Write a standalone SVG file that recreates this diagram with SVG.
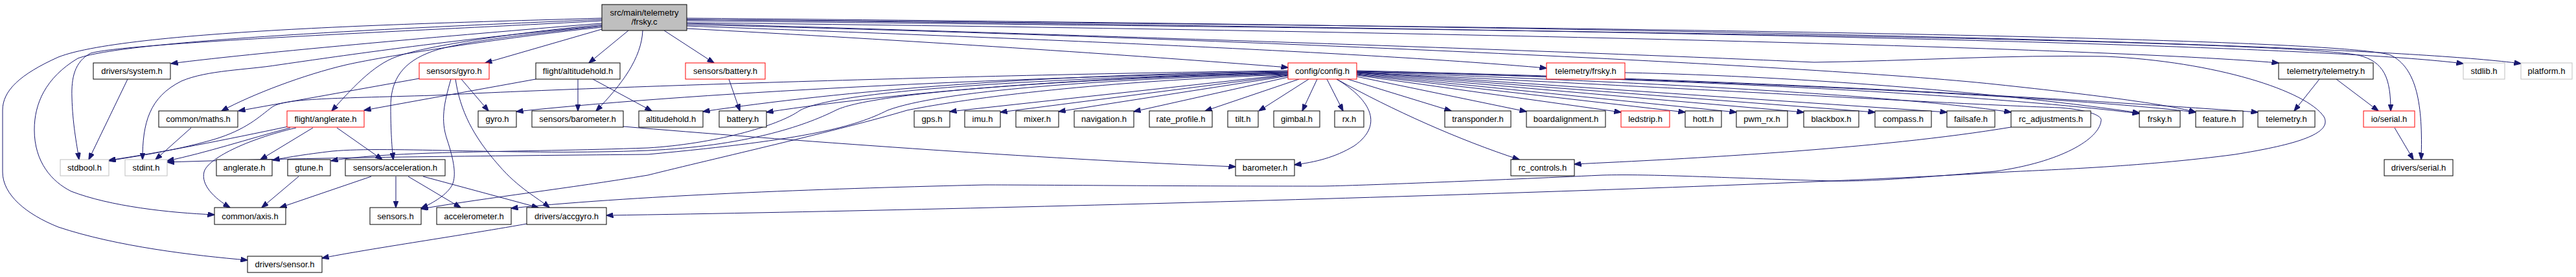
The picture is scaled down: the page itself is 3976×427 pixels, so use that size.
<svg xmlns="http://www.w3.org/2000/svg" width="3976" height="427" viewBox="0 0 3976 427">
<style>
rect{fill:#fff;stroke:#000;stroke-width:1}
.r rect{stroke:#ff0000}
.g rect{stroke:#bfbfbf}
.top rect{fill:#bfbfbf}
text{font-family:"Liberation Sans",Arial,sans-serif;font-size:13px;text-anchor:middle;fill:#000}
#edges path{fill:none;stroke:#191970;stroke-width:1;marker-end:url(#a)}
</style>
<defs>
<marker id="a" markerWidth="11" markerHeight="8" refX="10.5" refY="4" orient="auto" markerUnits="userSpaceOnUse">
<path d="M0,0 L11,4 L0,8 z" fill="#191970" stroke="#191970" stroke-width="1"/>
</marker>
</defs>
<rect x="0" y="0" width="3976" height="427" style="fill:#fff;stroke:none"/>
<g id="edges">
<!-- frsky.c left -->
<path d="M929,28 C700,35 200,45 90,88 C30,115 4,140 4,170 L4,265 C4,300 40,330 90,350 C180,380 300,394 382,401"/>
<path d="M929,30 C700,40 200,60 120,90 C70,120 53,160 53,200 C53,250 80,280 110,295 C170,318 260,328 331,331"/>
<path d="M929,32 C700,45 200,65 140,82 C115,95 110,120 111,150 C112,190 118,220 122,246"/>
<path d="M929,36 C800,46 400,80 264,98"/>
<path d="M929,40 C700,60 500,90 430,100 C380,108 320,108 280,125 C230,150 220,190 220,246"/>
<path d="M929,42 C800,55 600,85 534,100 C470,115 390,145 342,171"/>
<path d="M929,38 C800,50 660,70 613,87 C575,100 540,140 512,171"/>
<path d="M929,40 C800,55 700,65 660,82 C615,100 603,130 603,165 C603,200 605,230 607,246"/>
<path d="M929,45 L749,97"/>
<path d="M970,47 L909,97"/>
<path d="M992,47 C990,90 960,130 920,171"/>
<path d="M1025,47 L1102,97"/>
<!-- frsky.c right -->
<path d="M1060,44 C1400,62 1750,85 1988,104"/>
<path d="M1060,40 C1600,60 2100,80 2387,105"/>
<path d="M1060,35 C2000,45 3200,70 3517,97"/>
<path d="M1060,30 C2000,40 3500,60 3802,98"/>
<path d="M1060,28 C2200,38 3600,60 3891,98"/>
<path d="M1060,32 C2300,45 3500,60 3640,85 C3680,95 3690,120 3690,171"/>
<path d="M1060,30 C2300,40 3600,55 3690,85 C3730,105 3740,160 3737,246"/>
<path d="M1060,38 C1800,55 2800,100 3080,130 C3250,148 3350,162 3389,173"/>
<path d="M1060,36 C1700,55 2400,78 2800,96 C2950,94 3100,84 3250,87 C3420,95 3560,140 3587,180 C3600,205 3550,222 3450,238 C3300,258 3150,262 3080,266 C2700,290 1600,322 936,332"/>
<!-- config.h -->
<path d="M2094,112 C2600,135 3000,160 3180,166 C3230,170 3245,180 3243,186 C3240,215 3180,250 3080,264 C2950,275 2880,280 2827,279 C2650,274 2550,268 2473,270 C2300,278 2100,286 2040,287 C1800,287 1600,285 1520,285 C1300,290 1000,300 789,321"/>
<path d="M2033,122 L2010,171"/>
<path d="M2020,122 L1943,171"/>
<path d="M2005,122 L1860,171"/>
<path d="M1988,119 L1750,172"/>
<path d="M1988,117 L1634,172"/>
<path d="M1988,116 L1544,173"/>
<path d="M1988,115 L1466,172"/>
<path d="M2048,122 L2073,171"/>
<path d="M2063,122 C2110,150 2140,190 2090,225 C2060,243 2030,250 1998,254"/>
<path d="M2063,122 C2150,170 2250,215 2345,246"/>
<path d="M2080,122 L2240,171"/>
<path d="M2094,118 L2356,172"/>
<path d="M2094,116 L2502,173"/>
<path d="M2094,115 L2601,173"/>
<path d="M2094,114 L2680,173"/>
<path d="M2094,113 L2784,173"/>
<path d="M2094,112 L2894,173"/>
<path d="M2094,111 L3005,173"/>
<path d="M2094,111 C2600,128 2950,150 3104,173"/>
<path d="M2094,110 C2700,125 3100,150 3302,175"/>
<path d="M2094,110 C2700,125 3200,150 3389,173"/>
<path d="M2094,109 C2800,125 3300,160 3485,173"/>
<path d="M1988,111 C1600,118 1100,140 797,172"/>
<path d="M1988,110 C1600,115 1300,140 1085,172"/>
<path d="M1988,112 C1700,118 1400,140 1183,173"/>
<path d="M1988,109 C1500,115 900,135 670,147 C500,152 440,152 420,165 C400,180 380,200 330,215 C260,235 200,242 168,248"/>
<path d="M1988,115 C1700,125 1500,150 1400,170 C1300,200 1100,245 1000,270 C880,290 750,305 650,322"/>
<path d="M1988,114 C1700,122 1450,140 1370,170 C1320,195 1250,215 1000,238 C800,240 500,242 258,250"/>
<path d="M1988,113 C1700,120 1350,140 1290,170 C1240,195 1150,225 1000,232 C800,240 600,225 513,233 C470,238 440,243 421,247"/>
<path d="M1988,112 C1700,118 1300,135 1235,170 C1200,195 1100,222 1000,228 C800,235 600,232 511,248"/>
<!-- others -->
<path d="M962,195 C1200,215 1600,245 1907,257"/>
<path d="M3104,196 C2900,230 2600,245 2430,253"/>
<path d="M2508,112 C2800,118 3100,145 3302,174"/>
<path d="M3580,122 L3541,171"/>
<path d="M3606,122 L3671,171"/>
<path d="M3696,197 L3725,246"/>
<path d="M197,122 L137,246"/>
<path d="M295,197 L240,246"/>
<path d="M445,195 C350,215 250,235 168,247"/>
<path d="M448,197 C380,215 320,235 258,248"/>
<path d="M483,197 L402,246"/>
<path d="M520,197 L590,246"/>
<path d="M457,197 C380,215 320,245 315,265 C310,285 330,305 355,320"/>
<path d="M461,272 L404,320"/>
<path d="M573,272 L432,320"/>
<path d="M611,272 L611,320"/>
<path d="M630,272 L711,320"/>
<path d="M653,272 L831,320"/>
<path d="M647,121 L368,171"/>
<path d="M712,122 L754,171"/>
<path d="M696,122 C685,160 680,185 690,215 C700,245 705,270 698,285 C690,300 670,312 650,321"/>
<path d="M703,122 C710,170 730,210 770,255 C800,290 830,305 848,320"/>
<path d="M827,122 L562,170"/>
<path d="M892,122 L892,171"/>
<path d="M915,122 L1006,171"/>
<path d="M1125,122 L1142,171"/>
<path d="M813,345 C700,365 560,385 497,398"/>
</g>
<g id="n0" class="top"><rect x="929" y="7" width="131" height="40"/><text x="994.5" y="23.5">src/main/telemetry</text><text x="994.5" y="38">/frsky.c</text></g>
<g id="n_system"><rect x="144" y="97" width="119" height="25"/><text x="203.5" y="114">drivers/system.h</text></g>
<g id="n_sgyro" class="r"><rect x="647" y="97" width="108" height="25"/><text x="701" y="114">sensors/gyro.h</text></g>
<g id="n_falt"><rect x="827" y="97" width="130" height="25"/><text x="892" y="114">flight/altitudehold.h</text></g>
<g id="n_sbat" class="r"><rect x="1058" y="97" width="123" height="25"/><text x="1119.5" y="114">sensors/battery.h</text></g>
<g id="n_config" class="r"><rect x="1988" y="97" width="106" height="25"/><text x="2041" y="114">config/config.h</text></g>
<g id="n_tfrsky" class="r"><rect x="2387" y="97" width="121" height="25"/><text x="2447.5" y="114">telemetry/frsky.h</text></g>
<g id="n_ttel"><rect x="3517" y="97" width="146" height="25"/><text x="3590" y="114">telemetry/telemetry.h</text></g>
<g id="n_stdlib" class="g"><rect x="3802" y="97" width="64" height="25"/><text x="3834" y="114">stdlib.h</text></g>
<g id="n_platform" class="g"><rect x="3891" y="97" width="79" height="25"/><text x="3930.5" y="114">platform.h</text></g>
<g id="n_maths"><rect x="245" y="171" width="122" height="25"/><text x="306" y="188">common/maths.h</text></g>
<g id="n_fangle" class="r"><rect x="443" y="171" width="119" height="25"/><text x="502.5" y="188">flight/anglerate.h</text></g>
<g id="n_gyro"><rect x="738" y="171" width="59" height="25"/><text x="767.5" y="188">gyro.h</text></g>
<g id="n_sbaro"><rect x="821" y="171" width="141" height="25"/><text x="891.5" y="188">sensors/barometer.h</text></g>
<g id="n_alt"><rect x="986" y="171" width="99" height="25"/><text x="1035.5" y="188">altitudehold.h</text></g>
<g id="n_bat"><rect x="1110" y="171" width="73" height="25"/><text x="1146.5" y="188">battery.h</text></g>
<g id="n_gps"><rect x="1411" y="171" width="55" height="25"/><text x="1438.5" y="188">gps.h</text></g>
<g id="n_imu"><rect x="1489" y="171" width="55" height="25"/><text x="1516.5" y="188">imu.h</text></g>
<g id="n_mixer"><rect x="1568" y="171" width="66" height="25"/><text x="1601" y="188">mixer.h</text></g>
<g id="n_nav"><rect x="1658" y="171" width="92" height="25"/><text x="1704" y="188">navigation.h</text></g>
<g id="n_rate"><rect x="1774" y="171" width="97" height="25"/><text x="1822.5" y="188">rate_profile.h</text></g>
<g id="n_tilt"><rect x="1895" y="171" width="47" height="25"/><text x="1918.5" y="188">tilt.h</text></g>
<g id="n_gimbal"><rect x="1966" y="171" width="71" height="25"/><text x="2001.5" y="188">gimbal.h</text></g>
<g id="n_rx"><rect x="2060" y="171" width="45" height="25"/><text x="2082.5" y="188">rx.h</text></g>
<g id="n_transp"><rect x="2230" y="171" width="102" height="25"/><text x="2281" y="188">transponder.h</text></g>
<g id="n_board"><rect x="2356" y="171" width="122" height="25"/><text x="2417" y="188">boardalignment.h</text></g>
<g id="n_led" class="r"><rect x="2502" y="171" width="75" height="25"/><text x="2539.5" y="188">ledstrip.h</text></g>
<g id="n_hott"><rect x="2601" y="171" width="56" height="25"/><text x="2629" y="188">hott.h</text></g>
<g id="n_pwm"><rect x="2680" y="171" width="79" height="25"/><text x="2719.5" y="188">pwm_rx.h</text></g>
<g id="n_bb"><rect x="2784" y="171" width="85" height="25"/><text x="2826.5" y="188">blackbox.h</text></g>
<g id="n_compass"><rect x="2894" y="171" width="87" height="25"/><text x="2937.5" y="188">compass.h</text></g>
<g id="n_fs"><rect x="3005" y="171" width="74" height="25"/><text x="3042" y="188">failsafe.h</text></g>
<g id="n_rcadj"><rect x="3104" y="171" width="123" height="25"/><text x="3165.5" y="188">rc_adjustments.h</text></g>
<g id="n_frsky"><rect x="3302" y="171" width="63" height="25"/><text x="3333.5" y="188">frsky.h</text></g>
<g id="n_feature"><rect x="3389" y="171" width="73" height="25"/><text x="3425.5" y="188">feature.h</text></g>
<g id="n_tel"><rect x="3485" y="171" width="88" height="25"/><text x="3529" y="188">telemetry.h</text></g>
<g id="n_ioserial" class="r"><rect x="3648" y="171" width="79" height="25"/><text x="3687.5" y="188">io/serial.h</text></g>
<g id="n_stdbool" class="g"><rect x="93" y="246" width="75" height="25"/><text x="130.5" y="263">stdbool.h</text></g>
<g id="n_stdint" class="g"><rect x="193" y="246" width="65" height="25"/><text x="225.5" y="263">stdint.h</text></g>
<g id="n_anglerate"><rect x="334" y="246" width="86" height="25"/><text x="377" y="263">anglerate.h</text></g>
<g id="n_gtune"><rect x="444" y="246" width="66" height="25"/><text x="477" y="263">gtune.h</text></g>
<g id="n_sacc"><rect x="533" y="246" width="154" height="25"/><text x="610" y="263">sensors/acceleration.h</text></g>
<g id="n_baro"><rect x="1907" y="246" width="91" height="25"/><text x="1952.5" y="263">barometer.h</text></g>
<g id="n_rcctl"><rect x="2332" y="246" width="98" height="25"/><text x="2381" y="263">rc_controls.h</text></g>
<g id="n_dserial"><rect x="3680" y="246" width="106" height="25"/><text x="3733" y="263">drivers/serial.h</text></g>
<g id="n_axis"><rect x="331" y="320" width="110" height="26"/><text x="386" y="337.5">common/axis.h</text></g>
<g id="n_sensors"><rect x="571" y="320" width="79" height="26"/><text x="610.5" y="337.5">sensors.h</text></g>
<g id="n_accel"><rect x="674" y="320" width="115" height="26"/><text x="731.5" y="337.5">accelerometer.h</text></g>
<g id="n_accgyro"><rect x="813" y="320" width="123" height="26"/><text x="874.5" y="337.5">drivers/accgyro.h</text></g>
<g id="n_dsensor"><rect x="382" y="395" width="115" height="25"/><text x="439.5" y="412">drivers/sensor.h</text></g>
</svg>
